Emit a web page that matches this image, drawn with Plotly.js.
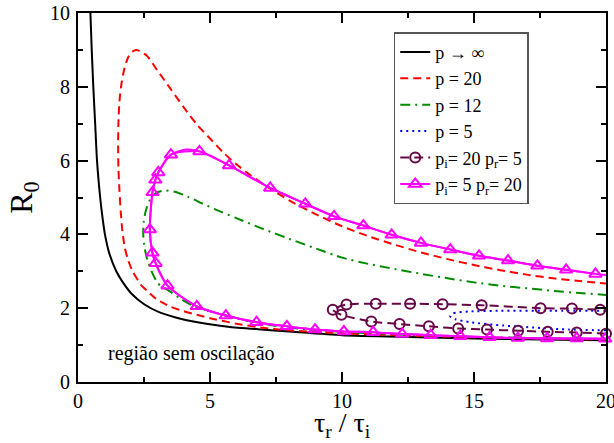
<!DOCTYPE html>
<html>
<head>
<meta charset="utf-8">
<script src="https://cdn.plot.ly/plotly-3.0.1.min.js"></script>
<style>html,body{margin:0;padding:0;background:#fff;}#chart{width:614px;height:443px;}</style>
</head>
<body>
<div id="chart"></div>
<script>
// p -> infinity
const infX = [0.47, 0.52, 0.58, 0.65, 0.72, 0.84, 0.92, 1.02, 1.18, 1.45, 1.70, 2.02, 2.52, 3.05, 3.70, 4.42, 5.68, 6.82, 8.0, 10.0, 12.5, 15.0, 17.5, 20.0];
const infY = [10.0, 9.0, 8.0, 7.0, 6.0, 5.0, 4.5, 4.0, 3.5, 3.0, 2.7, 2.4, 2.1, 1.9, 1.75, 1.63, 1.50, 1.43, 1.37, 1.27, 1.22, 1.18, 1.155, 1.13];
// p = 20
const p20X = [20.0, 17.5, 15.0, 12.5, 10.0, 8.0, 7.0, 6.0, 5.0, 4.5, 4.0, 3.5, 3.0, 2.65, 2.4, 2.27, 2.08, 1.90, 1.77, 1.68, 1.62, 1.57, 1.53, 1.52, 1.53, 1.57, 1.65, 1.76, 1.90, 2.05, 2.21, 2.6, 3.0, 3.5, 4.0, 4.5, 5.0, 5.5, 6.0, 6.5, 7.0, 8.0, 9.0, 10.0, 11.0, 12.0, 13.0, 14.0, 15.0, 16.0, 17.0, 18.0, 19.0, 20.0];
const p20Y = [1.15, 1.18, 1.21, 1.26, 1.32, 1.40, 1.47, 1.58, 1.73, 1.82, 1.92, 2.04, 2.23, 2.45, 2.62, 2.76, 2.98, 3.30, 3.65, 4.10, 4.60, 5.20, 5.80, 6.40, 7.00, 7.60, 8.10, 8.50, 8.80, 8.95, 9.00, 8.85, 8.45, 7.95, 7.45, 6.98, 6.60, 6.22, 5.90, 5.62, 5.37, 4.92, 4.55, 4.22, 3.95, 3.72, 3.51, 3.33, 3.17, 3.03, 2.91, 2.81, 2.74, 2.67];
// p = 12
const p12X = [20.0, 17.5, 15.0, 12.5, 10.0, 8.0, 7.0, 6.0, 5.0, 4.4, 3.9, 3.41, 3.03, 2.80, 2.63, 2.52, 2.47, 2.49, 2.57, 2.72, 2.95, 3.28, 3.7, 4.17, 4.7, 5.2, 6.0, 7.0, 8.0, 9.0, 10.0, 11.0, 12.0, 13.0, 14.0, 15.0, 16.0, 17.0, 18.0, 19.0, 20.0];
const p12Y = [1.16, 1.19, 1.22, 1.28, 1.36, 1.47, 1.58, 1.72, 1.92, 2.05, 2.25, 2.49, 2.67, 2.98, 3.30, 3.65, 4.00, 4.35, 4.65, 4.93, 5.12, 5.19, 5.15, 5.02, 4.84, 4.68, 4.44, 4.15, 3.88, 3.62, 3.37, 3.20, 3.06, 2.93, 2.81, 2.70, 2.61, 2.54, 2.47, 2.41, 2.36];
// p = 5
const p5X = [20.0, 18.6, 17.4, 16.1, 14.85, 14.3, 14.1, 14.2, 14.8, 16.0, 18.0, 20.0];
const p5Y = [1.40, 1.42, 1.47, 1.53, 1.62, 1.70, 1.78, 1.86, 1.91, 1.93, 1.93, 1.93];
// pi = 20, pr = 5
const a20X = [20.0, 18.89, 17.79, 16.67, 15.49, 14.40, 13.29, 12.18, 11.11, 9.98, 9.65, 10.17, 11.28, 12.58, 13.81, 15.29, 17.52, 18.71, 19.78];
const a20Y = [1.31, 1.34, 1.36, 1.39, 1.42, 1.45, 1.51, 1.57, 1.64, 1.82, 1.96, 2.10, 2.12, 2.12, 2.11, 2.08, 2.00, 1.99, 1.96];
// pi = 5, pr = 20 : markers
const b5X = [19.6, 18.49, 17.40, 16.29, 15.19, 14.10, 12.99, 11.88, 10.81, 9.70, 8.61, 7.28, 5.72, 4.60, 3.52, 3.04, 2.93, 2.82, 2.72, 2.82, 2.94, 3.39, 4.50, 5.60, 6.76, 7.91, 8.98, 10.07, 11.18, 12.28, 13.36, 14.48, 15.59, 16.66, 17.77, 18.89, 19.97];
const b5Y = [2.93, 3.04, 3.15, 3.29, 3.42, 3.59, 3.77, 3.99, 4.24, 4.49, 4.83, 5.26, 5.87, 6.25, 6.16, 5.68, 5.48, 5.14, 4.13, 3.50, 3.22, 2.61, 2.05, 1.80, 1.62, 1.51, 1.42, 1.37, 1.35, 1.30, 1.27, 1.24, 1.21, 1.19, 1.18, 1.18, 1.17];
// pi = 5, pr = 20 : curve
const b5LineX = [20.0, 19.6, 18.49, 17.40, 16.29, 15.19, 14.10, 12.99, 11.88, 10.81, 9.70, 8.61, 7.28, 5.72, 4.60, 4.08, 3.52, 3.04, 2.93, 2.82, 2.72, 2.82, 2.94, 3.39, 4.50, 5.60, 6.76, 7.91, 8.98, 10.07, 11.18, 12.28, 13.36, 14.48, 15.59, 16.66, 17.77, 18.89, 20.0];
const b5LineY = [2.90, 2.93, 3.04, 3.15, 3.29, 3.42, 3.59, 3.77, 3.99, 4.24, 4.49, 4.83, 5.26, 5.87, 6.25, 6.30, 6.16, 5.68, 5.48, 5.14, 4.13, 3.50, 3.22, 2.61, 2.05, 1.80, 1.62, 1.51, 1.42, 1.37, 1.35, 1.30, 1.27, 1.24, 1.21, 1.19, 1.18, 1.18, 1.17];

const names = ['p \u2192 \u221e', 'p = 20', 'p = 12', 'p = 5', 'p<sub>i</sub>= 20 p<sub>r</sub>= 5', 'p<sub>i</sub>= 5 p<sub>r</sub>= 20'];
const xTitle = '\u03c4<sub>r</sub> / \u03c4<sub>i</sub>';
const yTitle = 'R<sub>0</sub>';
const regionLabel = 'região sem oscilação';
const serif = 'Liberation Serif, Times New Roman, serif';

const traces = [
  {x: infX, y: infY, name: names[0], mode: 'lines', line: {color: '#000000', width: 2, shape: 'spline', smoothing: 0.6}},
  {x: p20X, y: p20Y, name: names[1], mode: 'lines', line: {color: '#ff0000', width: 2, dash: '8px,5px', shape: 'spline', smoothing: 0.6}},
  {x: p12X, y: p12Y, name: names[2], mode: 'lines', line: {color: '#008b00', width: 2, dash: '10px,5px,2px,5px', shape: 'spline', smoothing: 0.6}},
  {x: p5X, y: p5Y, name: names[3], mode: 'lines', line: {color: '#0000ff', width: 2, dash: '2px,4px', shape: 'spline', smoothing: 0.6}},
  {x: a20X, y: a20Y, name: names[4], mode: 'lines+markers', cliponaxis: false,
   line: {color: '#670748', width: 2, dash: '9px,5px', shape: 'spline', smoothing: 0.6},
   marker: {symbol: 'circle-open', size: 10, color: '#670748', line: {width: 2, color: '#670748'}}},
  {x: b5LineX, y: b5LineY, name: names[5], mode: 'lines', showlegend: false,
   line: {color: '#ff00ff', width: 2, shape: 'spline', smoothing: 0.7}},
  {x: b5X, y: b5Y, name: names[5], mode: 'lines+markers', cliponaxis: false,
   line: {color: '#ff00ff', width: 2, shape: 'spline', smoothing: 0.7},
   marker: {symbol: 'triangle-up-open', size: 11, color: '#ff00ff', line: {width: 2, color: '#ff00ff'}}}
];

const axisCommon = {
  showgrid: false, zeroline: false, showline: true, linecolor: '#000', linewidth: 2,
  ticks: 'inside', ticklen: 10, tickwidth: 2, tickcolor: '#000', mirror: 'ticks',
  ticklabeloverflow: 'allow',
  tickfont: {family: serif, size: 20, color: '#000'}
};

const layout = {
  width: 614, height: 443,
  margin: {l: 78, r: 8, t: 13, b: 61},
  paper_bgcolor: '#fff', plot_bgcolor: '#fff',
  showlegend: true,
  legend: {x: 0.598, y: 0.948, xanchor: 'left', yanchor: 'top', bgcolor: '#fff', bordercolor: '#555', borderwidth: 1.5,
           font: {family: serif, size: 18, color: '#000'}, tracegroupgap: 0, itemwidth: 30},
  xaxis: Object.assign({}, axisCommon, {
    range: [0, 20], dtick: 5, tick0: 0,
    minor: {dtick: 2.5, ticks: 'inside', ticklen: 5, tickwidth: 2, tickcolor: '#000'}
  }),
  yaxis: Object.assign({}, axisCommon, {
    range: [0, 10], dtick: 2, tick0: 0,
    minor: {dtick: 1, ticks: 'inside', ticklen: 5, tickwidth: 2, tickcolor: '#000'},
    ticklabelstandoff: 2,
    title: {text: yTitle, font: {family: serif, size: 32, color: '#000'}, standoff: 8}
  }),
  annotations: [
    {x: 1.06, y: 0.76, xref: 'x', yref: 'y', xanchor: 'left', yanchor: 'middle', showarrow: false,
     text: regionLabel, font: {family: serif, size: 20, color: '#000'}},
    {x: 0.5, y: -0.1645, xref: 'paper', yref: 'paper', xanchor: 'center', yanchor: 'bottom', showarrow: false,
     borderpad: 0, text: xTitle, font: {family: serif, size: 28, color: '#000'}}
  ]
};

Plotly.newPlot('chart', traces, layout, {displayModeBar: false, staticPlot: true});
</script>
</body>
</html>
